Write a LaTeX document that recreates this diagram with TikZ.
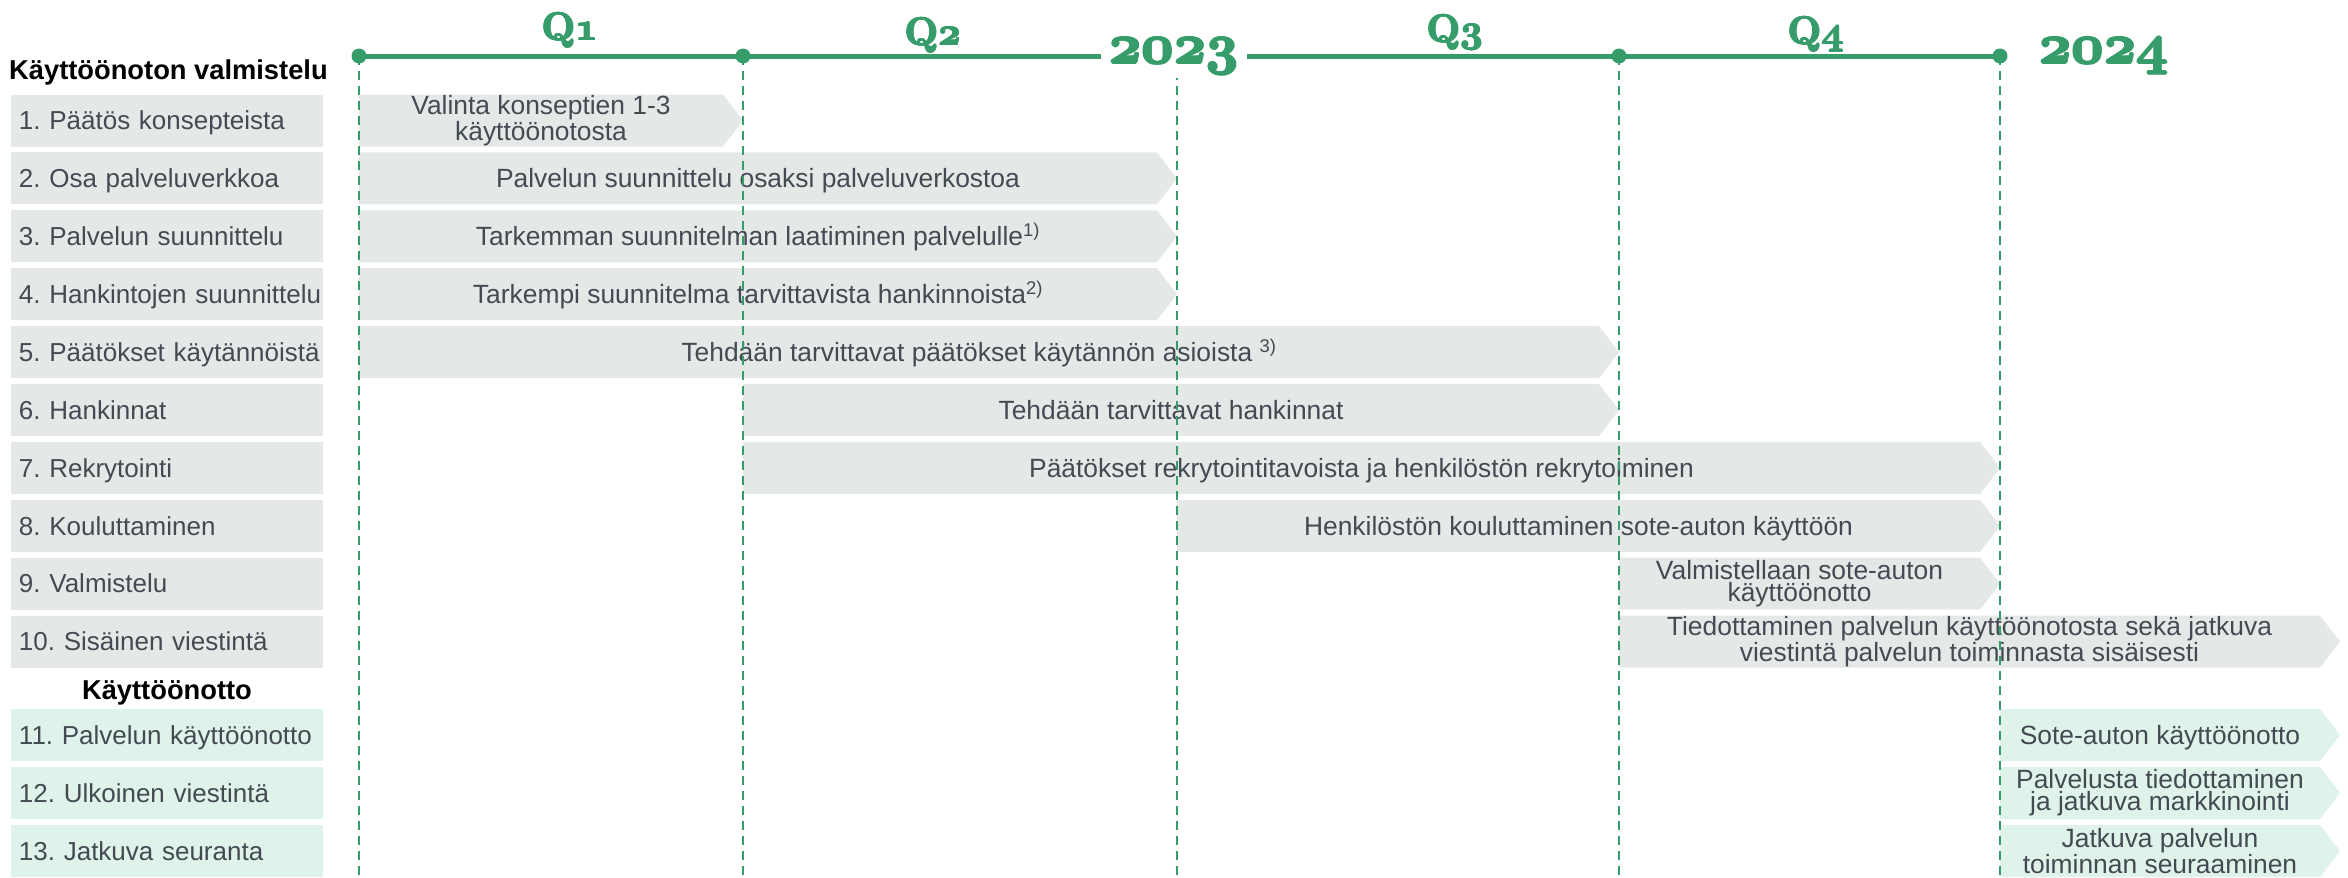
\RequirePackage{fix-cm}
\documentclass[tikz,border=0pt]{standalone}
\usepackage{fontspec}
\setmainfont{Liberation Sans}
\newfontfamily\qfont{Latin Modern Roman}
\frenchspacing
\definecolor{tlgreen}{HTML}{369C6A}
\definecolor{bargray}{HTML}{E4E9E7}
\definecolor{barmint}{HTML}{DFF3EA}
\definecolor{txtgray}{HTML}{434A52}
% label box on the left: name, fill, y, text
\newcommand{\rowlab}[4]{\node[labbox, fill=#2] (#1) at (167,#3) {\mbox{#4}};}
% task bar with arrow tip: [style] name, fill, x start, x tip, y, text
\newcommand{\task}[7][one]{\fill[#3] (#4,{#6-26}) -- ({#5-20},{#6-26}) -- (#5,#6) -- ({#5-20},{#6+26}) -- (#4,{#6+26}) -- cycle;
  \node[tasktext, #1] (#2) at ({(#4+#5-20)/2},#6) {#7};}
% heavier text: copies shifted around the original, #1 in pt
\newcommand{\hcopy}[3]{\rlap{\kern#1\raisebox{#2}{#3}}}
\newcommand{\heavy}[2]{\hcopy{#1pt}{0pt}{#2}\hcopy{-#1pt}{0pt}{#2}\hcopy{0pt}{#1pt}{#2}\hcopy{0pt}{-#1pt}{#2}%
  \hcopy{\dimexpr#1pt*7/10\relax}{\dimexpr#1pt*7/10\relax}{#2}\hcopy{-\dimexpr#1pt*7/10\relax}{\dimexpr#1pt*7/10\relax}{#2}%
  \hcopy{\dimexpr#1pt*7/10\relax}{-\dimexpr#1pt*7/10\relax}{#2}\hcopy{-\dimexpr#1pt*7/10\relax}{-\dimexpr#1pt*7/10\relax}{#2}#2}

\begin{document}
\begin{tikzpicture}[x=1pt, y=-1pt,
    labbox/.style={minimum height=52pt, text width=296pt, inner xsep=8pt, inner ysep=0pt, align=left,
      text height=18.5pt, text depth=0pt, text=txtgray, font=\fontsize{26}{22}\selectfont},
    tasktext/.style={align=center, inner sep=0pt, text=txtgray, font=\fontsize{26.4}{22}\selectfont},
    one/.style={text height=19pt, text depth=0pt},
    two/.style={},
    head/.style={inner sep=0pt, font=\bfseries\fontsize{27.3}{27}\selectfont},
    qlab/.style={anchor=base, inner sep=0pt, text=tlgreen, font=\qfont\bfseries\boldmath\fontsize{39}{39}\selectfont},
    yearlab/.style={anchor=base, fill=white, inner xsep=9pt, inner ysep=3pt, text=tlgreen,
      font=\qfont\bfseries\boldmath\fontsize{56}{56}\selectfont},
    dot/.style={circle, fill=tlgreen, inner sep=0pt, minimum size=15pt},
    tline/.style={draw=tlgreen, line width=5pt},
    gline/.style={draw=tlgreen, line width=1.7pt, dash pattern=on 9pt off 6pt}]
    \useasboundingbox (0,0) rectangle (2348,878);
    % headings
    \node[head, anchor=base west] (h1) at (9,79) {Käyttöönoton valmistelu};
    \node[head, anchor=base] (h2) at (167,699) {Käyttöönotto};
    % row labels
    \rowlab{l1}{bargray}{120.5}{1. Päätös konsepteista}
    \rowlab{l2}{bargray}{178.4}{2. Osa palveluverkkoa}
    \rowlab{l3}{bargray}{236.3}{3. Palvelun suunnittelu}
    \rowlab{l4}{bargray}{294.2}{4. Hankintojen suunnittelu}
    \rowlab{l5}{bargray}{352.1}{5. Päätökset käytännöistä}
    \rowlab{l6}{bargray}{410}{6. Hankinnat}
    \rowlab{l7}{bargray}{467.9}{7. Rekrytointi}
    \rowlab{l8}{bargray}{525.8}{8. Kouluttaminen}
    \rowlab{l9}{bargray}{583.7}{9. Valmistelu}
    \rowlab{l10}{bargray}{641.6}{10. Sisäinen viestintä}
    \rowlab{l11}{barmint}{735}{11. Palvelun käyttöönotto}
    \rowlab{l12}{barmint}{793}{12. Ulkoinen viestintä}
    \rowlab{l13}{barmint}{851}{13. Jatkuva seuranta}
    % task bars
    \task[two]{b1}{bargray}{359}{743}{120.5}{Valinta konseptien 1-3\\käyttöönotosta}
    \task{b2}{bargray}{359}{1177}{178.4}{Palvelun suunnittelu osaksi palveluverkostoa}
    \task{b3}{bargray}{359}{1177}{236.3}{Tarkemman suunnitelman laatiminen palvelulle\textsuperscript{1)}}
    \task{b4}{bargray}{359}{1177}{294.2}{Tarkempi suunnitelma tarvittavista hankinnoista\textsuperscript{2)}}
    \task{b5}{bargray}{359}{1619}{352.1}{Tehdään tarvittavat päätökset käytännön asioista \textsuperscript{3)}}
    \task{b6}{bargray}{743}{1619}{410}{Tehdään tarvittavat hankinnat}
    \task{b7}{bargray}{743}{2000}{467.9}{Päätökset rekrytointitavoista ja henkilöstön rekrytoiminen}
    \task{b8}{bargray}{1177}{2000}{525.8}{Henkilöstön kouluttaminen sote-auton käyttöön}
    \task[two]{b9}{bargray}{1619}{2000}{583.7}{Valmistellaan sote-auton\\käyttöönotto}
    \task[two]{b10}{bargray}{1619}{2340}{641.6}{Tiedottaminen palvelun käyttöönotosta sekä jatkuva\\viestintä palvelun toiminnasta sisäisesti}
    \task{b11}{barmint}{2000}{2340}{735}{Sote-auton käyttöönotto}
    \task[two]{b12}{barmint}{2000}{2340}{793}{Palvelusta tiedottaminen\\ja jatkuva markkinointi}
    \task[two]{b13}{barmint}{2000}{2340}{851}{Jatkuva palvelun\\toiminnan seuraaminen}
    % timeline points
    \coordinate (t0) at (359,56);
    \coordinate (t1) at (743,56);
    \coordinate (t2) at (1177,56);
    \coordinate (t3) at (1619,56);
    \coordinate (t4) at (2000,56);
    \coordinate (e0) at (359,878);
    \coordinate (e1) at (743,878);
    \coordinate (e2) at (1177,878);
    \coordinate (e3) at (1619,878);
    \coordinate (e4) at (2000,878);
    % quarter borders
    \draw[gline] (t0) -- (e0);
    \draw[gline] (t1) -- (e1);
    \draw[gline] (t2) -- (e2);
    \draw[gline] (t3) -- (e3);
    \draw[gline] (t4) -- (e4);
    \draw[tline] (t0) -- (t4);
    \node[dot] (d0) at (t0) {};
    \node[dot] (d1) at (t1) {};
    \node[dot] (d3) at (t3) {};
    \node[dot] (d4) at (t4) {};
    % quarters and years
    \node[qlab] (q1) at (570,40) {\heavy{0.7}{Q$\mathnormal{1}$}};
    \node[qlab] (q2) at (933,45) {\heavy{0.7}{Q$\mathnormal{2}$}};
    \node[qlab] (q3) at (1455,42) {\heavy{0.7}{Q$\mathnormal{3}$}};
    \node[qlab] (q4) at (1816,44) {\heavy{0.7}{Q$\mathnormal{4}$}};
    \node[yearlab] (y1) at (1174,63) {\heavy{1}{$\mathnormal{2023}$}};
    \node[yearlab, fill=none] (y2) at (2104,63) {\heavy{1}{$\mathnormal{2024}$}};
\end{tikzpicture}
\end{document}
